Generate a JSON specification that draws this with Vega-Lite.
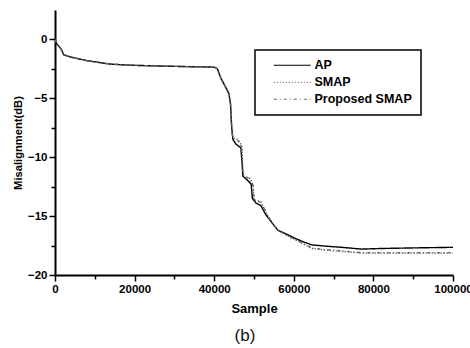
{
  "$schema": "https://vega.github.io/schema/vega-lite/v6.json",
  "width": 398,
  "height": 265,
  "autosize": "none",
  "padding": {"left": 55, "top": 10, "right": 17, "bottom": 73},
  "background": "white",
  "title": {"text": "(b)", "orient": "bottom", "anchor": "middle", "dx": -9, "offset": 12, "fontSize": 17, "fontWeight": "normal", "font": "Liberation Sans", "color": "#111"},
  "config": {
    "view": {"stroke": null},
    "font": "Liberation Sans",
    "axis": {"domainColor": "black", "domainWidth": 2, "tickColor": "black", "tickWidth": 1.5, "grid": false, "labelFont": "Liberation Sans", "labelFontWeight": "bold", "labelFontSize": 11.5, "labelColor": "black", "titleFont": "Liberation Sans", "titleFontWeight": "bold", "titleColor": "black"}
  },
  "data": {"values": [
    {"s": "AP", "x": 0, "y": 0.0}, {"s": "AP", "x": 500, "y": -0.4}, {"s": "AP", "x": 1500, "y": -0.8}, {"s": "AP", "x": 2200, "y": -1.3},
    {"s": "AP", "x": 4000, "y": -1.5}, {"s": "AP", "x": 8000, "y": -1.8}, {"s": "AP", "x": 14000, "y": -2.1}, {"s": "AP", "x": 20000, "y": -2.2},
    {"s": "AP", "x": 28000, "y": -2.27}, {"s": "AP", "x": 35000, "y": -2.32}, {"s": "AP", "x": 40000, "y": -2.35}, {"s": "AP", "x": 40800, "y": -2.5},
    {"s": "AP", "x": 41700, "y": -3.3}, {"s": "AP", "x": 42800, "y": -4.0}, {"s": "AP", "x": 43700, "y": -4.6}, {"s": "AP", "x": 44100, "y": -5.5},
    {"s": "AP", "x": 44400, "y": -7.5}, {"s": "AP", "x": 44700, "y": -8.5}, {"s": "AP", "x": 45500, "y": -8.9}, {"s": "AP", "x": 46700, "y": -9.2},
    {"s": "AP", "x": 47000, "y": -10.5}, {"s": "AP", "x": 47200, "y": -11.6}, {"s": "AP", "x": 48500, "y": -12.0}, {"s": "AP", "x": 49300, "y": -12.3},
    {"s": "AP", "x": 49600, "y": -13.5}, {"s": "AP", "x": 50500, "y": -13.9}, {"s": "AP", "x": 51700, "y": -14.1}, {"s": "AP", "x": 53000, "y": -14.9},
    {"s": "AP", "x": 54600, "y": -15.6}, {"s": "AP", "x": 56000, "y": -16.2}, {"s": "AP", "x": 58000, "y": -16.5}, {"s": "AP", "x": 60400, "y": -16.9},
    {"s": "AP", "x": 62500, "y": -17.2}, {"s": "AP", "x": 64600, "y": -17.45}, {"s": "AP", "x": 68000, "y": -17.55}, {"s": "AP", "x": 72000, "y": -17.65},
    {"s": "AP", "x": 77000, "y": -17.8}, {"s": "AP", "x": 82000, "y": -17.75}, {"s": "AP", "x": 90000, "y": -17.7}, {"s": "AP", "x": 100000, "y": -17.65},

    {"s": "SMAP", "x": 0, "y": 0.0}, {"s": "SMAP", "x": 500, "y": -0.4}, {"s": "SMAP", "x": 1500, "y": -0.8}, {"s": "SMAP", "x": 2200, "y": -1.3},
    {"s": "SMAP", "x": 4000, "y": -1.5}, {"s": "SMAP", "x": 8000, "y": -1.8}, {"s": "SMAP", "x": 14000, "y": -2.1}, {"s": "SMAP", "x": 20000, "y": -2.2},
    {"s": "SMAP", "x": 28000, "y": -2.27}, {"s": "SMAP", "x": 35000, "y": -2.32}, {"s": "SMAP", "x": 40000, "y": -2.35}, {"s": "SMAP", "x": 40800, "y": -2.5},
    {"s": "SMAP", "x": 41700, "y": -3.3}, {"s": "SMAP", "x": 42800, "y": -4.0}, {"s": "SMAP", "x": 43700, "y": -4.6}, {"s": "SMAP", "x": 44100, "y": -5.5},
    {"s": "SMAP", "x": 44400, "y": -7.5}, {"s": "SMAP", "x": 44700, "y": -8.4}, {"s": "SMAP", "x": 46000, "y": -8.5}, {"s": "SMAP", "x": 46900, "y": -9.0},
    {"s": "SMAP", "x": 47200, "y": -11.0}, {"s": "SMAP", "x": 47400, "y": -11.6}, {"s": "SMAP", "x": 49000, "y": -11.8}, {"s": "SMAP", "x": 49800, "y": -12.4},
    {"s": "SMAP", "x": 50000, "y": -13.6}, {"s": "SMAP", "x": 51800, "y": -13.8}, {"s": "SMAP", "x": 53000, "y": -14.7}, {"s": "SMAP", "x": 54600, "y": -15.6},
    {"s": "SMAP", "x": 56000, "y": -16.2}, {"s": "SMAP", "x": 58000, "y": -16.6}, {"s": "SMAP", "x": 60400, "y": -17.0}, {"s": "SMAP", "x": 62500, "y": -17.4},
    {"s": "SMAP", "x": 64600, "y": -17.75}, {"s": "SMAP", "x": 68000, "y": -17.9}, {"s": "SMAP", "x": 72000, "y": -18.0}, {"s": "SMAP", "x": 77000, "y": -18.15},
    {"s": "SMAP", "x": 82000, "y": -18.15}, {"s": "SMAP", "x": 90000, "y": -18.15}, {"s": "SMAP", "x": 100000, "y": -18.15},

    {"s": "Proposed SMAP", "x": 0, "y": 0.0}, {"s": "Proposed SMAP", "x": 500, "y": -0.4}, {"s": "Proposed SMAP", "x": 1500, "y": -0.8}, {"s": "Proposed SMAP", "x": 2200, "y": -1.3},
    {"s": "Proposed SMAP", "x": 4000, "y": -1.5}, {"s": "Proposed SMAP", "x": 8000, "y": -1.8}, {"s": "Proposed SMAP", "x": 14000, "y": -2.1}, {"s": "Proposed SMAP", "x": 20000, "y": -2.2},
    {"s": "Proposed SMAP", "x": 28000, "y": -2.27}, {"s": "Proposed SMAP", "x": 35000, "y": -2.32}, {"s": "Proposed SMAP", "x": 40000, "y": -2.35}, {"s": "Proposed SMAP", "x": 40800, "y": -2.5},
    {"s": "Proposed SMAP", "x": 41700, "y": -3.3}, {"s": "Proposed SMAP", "x": 42800, "y": -4.0}, {"s": "Proposed SMAP", "x": 43700, "y": -4.6}, {"s": "Proposed SMAP", "x": 44100, "y": -5.5},
    {"s": "Proposed SMAP", "x": 44400, "y": -7.5}, {"s": "Proposed SMAP", "x": 44700, "y": -8.4}, {"s": "Proposed SMAP", "x": 45900, "y": -8.55}, {"s": "Proposed SMAP", "x": 46900, "y": -9.1},
    {"s": "Proposed SMAP", "x": 47200, "y": -11.1}, {"s": "Proposed SMAP", "x": 47400, "y": -11.6}, {"s": "Proposed SMAP", "x": 49000, "y": -11.85}, {"s": "Proposed SMAP", "x": 49800, "y": -12.4},
    {"s": "Proposed SMAP", "x": 50000, "y": -13.6}, {"s": "Proposed SMAP", "x": 51800, "y": -13.85}, {"s": "Proposed SMAP", "x": 53000, "y": -14.7}, {"s": "Proposed SMAP", "x": 54600, "y": -15.6},
    {"s": "Proposed SMAP", "x": 56000, "y": -16.2}, {"s": "Proposed SMAP", "x": 58000, "y": -16.6}, {"s": "Proposed SMAP", "x": 60400, "y": -17.0}, {"s": "Proposed SMAP", "x": 62500, "y": -17.35},
    {"s": "Proposed SMAP", "x": 64600, "y": -17.7}, {"s": "Proposed SMAP", "x": 68000, "y": -17.85}, {"s": "Proposed SMAP", "x": 72000, "y": -17.95}, {"s": "Proposed SMAP", "x": 77000, "y": -18.1},
    {"s": "Proposed SMAP", "x": 82000, "y": -18.1}, {"s": "Proposed SMAP", "x": 90000, "y": -18.1}, {"s": "Proposed SMAP", "x": 100000, "y": -18.1}
  ]},
  "layer": [
    {
      "mark": {"type": "line", "strokeWidth": 1.4, "clip": true},
      "encoding": {
        "x": {"field": "x", "type": "quantitative", "scale": {"domain": [0, 100000], "nice": false},
          "axis": {"orient": "bottom", "values": [0, 20000, 40000, 60000, 80000, 100000], "format": "d", "tickSize": 6, "labelPadding": 2, "title": "Sample", "titleFontSize": 13, "titlePadding": 8, "labelFlush": false, "labelOverlap": false}},
        "y": {"field": "y", "type": "quantitative", "scale": {"domain": [-20, 2.5], "nice": false, "zero": false},
          "axis": {"orient": "left", "values": [0, -5, -10, -15, -20], "tickSize": 6, "labelPadding": 2, "title": "Misalignment(dB)", "titleFontSize": 11.2, "titlePadding": 4, "labelFlush": false}},
        "color": {"field": "s", "type": "nominal", "scale": {"domain": ["AP", "SMAP", "Proposed SMAP"], "range": ["#000000", "#444444", "#666666"]},
          "legend": {"title": null, "orient": "none", "legendX": 200, "legendY": 40, "strokeColor": "black", "fillColor": "white", "padding": 9, "symbolOffset": 22, "symbolType": "M-3.7,0H3.7", "symbolSize": 100, "symbolStrokeWidth": 1.2, "labelFont": "Liberation Sans", "labelFontWeight": "bold", "labelFontSize": 12.5, "labelColor": "black", "labelOffset": 16, "rowPadding": 4, "labelExpr": "datum.label + '\u00a0\u00a0\u00a0'",
            "encode": {"legend": {"update": {"strokeWidth": {"value": 1.5}}}}}},
        "strokeDash": {"field": "s", "type": "nominal", "scale": {"domain": ["AP", "SMAP", "Proposed SMAP"], "range": [[1, 0], [1, 2], [3, 3, 1, 3]]}, "legend": null}
      }
    },
    {
      "mark": {"type": "point", "opacity": 0},
      "encoding": {
        "x": {"field": "x", "type": "quantitative", "axis": {"orient": "bottom", "values": [10000, 30000, 50000, 70000, 90000], "labels": false, "domain": false, "tickSize": 4, "title": null}},
        "y": {"field": "y", "type": "quantitative", "axis": {"orient": "left", "values": [-2.5, -7.5, -12.5, -17.5], "labels": false, "domain": false, "tickSize": 4, "title": null}}
      }
    }
  ],
  "resolve": {"axis": {"x": "independent", "y": "independent"}}
}
